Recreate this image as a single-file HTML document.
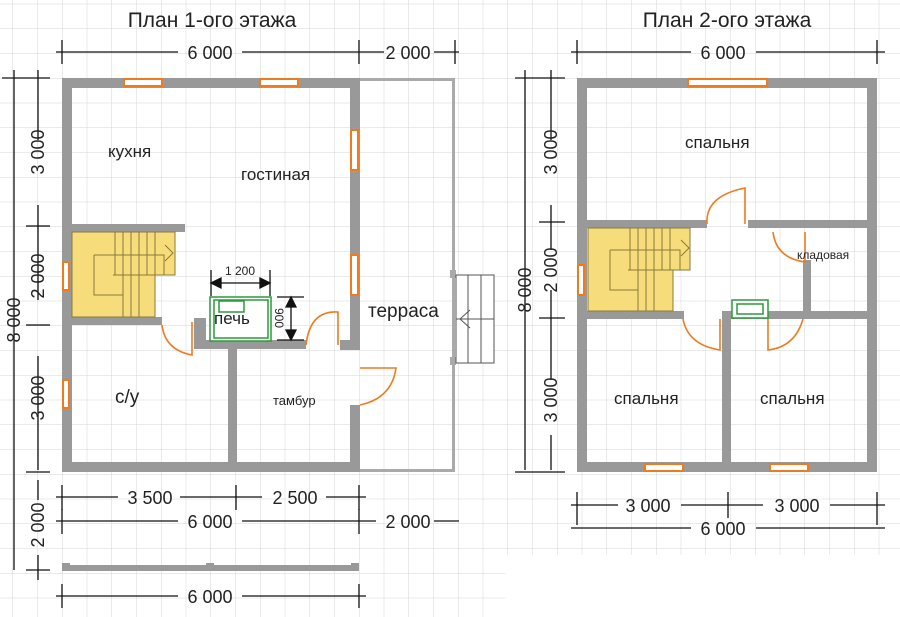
<!DOCTYPE html>
<html><head><meta charset="utf-8"><style>
html,body{margin:0;padding:0;background:#fff}
svg{display:block}
text{font-family:"Liberation Sans","DejaVu Sans",sans-serif;fill:#222}
</style></head><body>
<svg width="900" height="617" viewBox="0 0 900 617" xmlns="http://www.w3.org/2000/svg">
<defs>
<pattern id="g" width="24.75" height="24.75" patternUnits="userSpaceOnUse" x="62" y="78">
<path d="M0 0H24.75M0 0V24.75" stroke="#d6d6d6" stroke-width="1" fill="none"/>
</pattern>
</defs>
<rect x="0" y="0" width="900" height="617" fill="url(#g)"/>
<rect x="505" y="555" width="395" height="62" fill="#fff"/>

<!-- PLAN 1 -->
<text x="212" y="27" font-size="21" text-anchor="middle">План 1-ого этажа</text>
<g stroke="#111" stroke-width="1.3" fill="none">
<path d="M56 52H178M242 52H376M359 40V64M62 40V64M376 52H384M434 52H459M455 40V64"/>
<path d="M14 70V570M2 78H50M38 70V140M38 205V300M38 356V470M26 226H50M26 325H50M26 472H50M38 480V500M38 555V580M26 570H50"/>
<path d="M56 497H118M180 497H262M326 497H366M62 485V510M236 485V510M359 485V510"/>
<path d="M56 521H178M242 521H376M434 521H459M62 509V534M359 509V534"/>
<path d="M56 596H178M242 596H366M62 584V608M359 584V608"/>
</g>
<g font-size="18" text-anchor="middle">
<text x="210" y="59">6 000</text><text x="408" y="59">2 000</text>
<text x="150" y="504">3 500</text><text x="295" y="504">2 500</text>
<text x="210" y="528">6 000</text><text x="408" y="528">2 000</text>
<text x="210" y="603">6 000</text>
<text transform="translate(20,320) rotate(-90)">8 000</text>
<text transform="translate(44,152) rotate(-90)">3 000</text>
<text transform="translate(44,276) rotate(-90)">2 000</text>
<text transform="translate(44,398) rotate(-90)">3 000</text>
<text transform="translate(44,525) rotate(-90)">2 000</text>
</g>
<!-- terrace -->
<g fill="#aaa">
<rect x="359" y="78" width="96" height="3"/><rect x="452" y="78" width="3" height="394"/><rect x="359" y="469" width="96" height="3"/>
<rect x="450" y="270" width="6" height="8"/><rect x="450" y="357" width="6" height="8"/>
</g>
<g stroke="#555" stroke-width="1" fill="#fff"><rect x="456" y="275" width="38" height="88"/>
<path d="M468 275V363M481 275V363M456 319H494" fill="none"/><path d="M470 310L460 319L470 328" fill="none"/></g>
<!-- foundation bar -->
<rect x="62" y="565" width="297" height="6" fill="#999"/><rect x="62" y="563" width="8" height="8" fill="#999"/><rect x="206" y="563" width="8" height="8" fill="#999"/><rect x="351" y="563" width="8" height="8" fill="#999"/>
<!-- walls -->
<g fill="#999">
<rect x="62" y="78" width="298" height="10"/>
<rect x="62" y="462" width="298" height="10"/>
<rect x="62" y="78" width="10" height="394"/>
<rect x="350" y="78" width="10" height="262"/>
<rect x="350" y="405" width="10" height="67"/>
<rect x="340" y="340" width="20" height="10"/>
<rect x="72" y="224" width="113" height="8"/>
<rect x="72" y="317" width="90" height="8"/>
<rect x="194" y="318" width="12" height="30"/>
<rect x="194" y="340" width="112" height="9"/>
<rect x="228" y="340" width="9" height="125"/>
</g>
<!-- stairs -->
<g stroke="#8a7a3a" stroke-width="1" fill="#f6dc7a">
<path d="M72 232H175V275H155V317H72Z"/>
<path d="M115 232V275M123 232V317M131 232V317M139 232V317M147 232V275M155 232V275M94 255H164V275M94 255V295H123M113 275H175" fill="none"/>
<path d="M165 245L173 253L165 261" fill="none"/>
</g>
<!-- windows -->
<g fill="#fff" stroke="#f07a20" stroke-width="2">
<rect x="124" y="79" width="38" height="7"/><rect x="260" y="79" width="38" height="7"/>
<rect x="351" y="130" width="7" height="40"/><rect x="351" y="255" width="7" height="40"/>
<rect x="63" y="262" width="6" height="28"/><rect x="63" y="380" width="6" height="28"/>
</g>
<!-- doors -->
<g stroke="#f07a20" stroke-width="1.6" fill="none">
<path d="M162 325Q165 350 192 355V322"/>
<path d="M306 345Q310 310 338 312V345"/>
<path d="M360 368H396Q392 398 360 405"/>
</g>
<!-- stove -->
<g stroke="#2a9a3a" stroke-width="1.5" fill="#fff">
<rect x="210" y="297" width="61" height="44"/><rect x="214" y="300" width="54" height="38" fill="none"/><rect x="219" y="301" width="25" height="11" fill="none"/>
</g>
<g stroke="#111" stroke-width="1.3" fill="#111">
<path d="M211 270V296M270 270V296M211 283H270" fill="none"/><path d="M211 283l10-5v10zM270 283l-10-5v10z"/>
<path d="M277 297H304M277 340H304M291 297V340" fill="none"/><path d="M291 297l-5 10h10zM291 340l-5-10h10z"/>
</g>
<text x="240" y="275" font-size="12" text-anchor="middle">1 200</text>
<text transform="translate(275,318) rotate(90)" font-size="12" text-anchor="middle">900</text>
<g font-size="17">
<text x="108" y="157">кухня</text><text x="241" y="180">гостиная</text>
<text x="214" y="324">печь</text><text x="368" y="317" font-size="19">терраса</text>
<text x="115" y="403" font-size="19">с/у</text><text x="273" y="405" font-size="13">тамбур</text>
</g>

<!-- PLAN 2 -->
<text x="727" y="27" font-size="21" text-anchor="middle">План 2-ого этажа</text>
<g stroke="#111" stroke-width="1.3" fill="none">
<path d="M571 52H691M756 52H885M577 40V64M877 40V64"/>
<path d="M525 70V470M515 78H565M515 472H565M551 70V140M551 205V250M551 290V380M551 435V470M539 222H565M539 318H565"/>
<path d="M571 505H618M681 505H763M830 505H885M577 492V525M728 492V518M877 492V525"/>
<path d="M571 528H691M756 528H885"/>
</g>
<g font-size="18" text-anchor="middle">
<text x="723" y="59">6 000</text>
<text x="648" y="512">3 000</text><text x="797" y="512">3 000</text>
<text x="723" y="535">6 000</text>
<text transform="translate(531,290) rotate(-90)">8 000</text>
<text transform="translate(557,152) rotate(-90)">3 000</text>
<text transform="translate(557,270) rotate(-90)">2 000</text>
<text transform="translate(557,400) rotate(-90)">3 000</text>
</g>
<g fill="#999">
<rect x="577" y="78" width="300" height="10"/>
<rect x="577" y="462" width="300" height="10"/>
<rect x="577" y="78" width="10" height="394"/>
<rect x="867" y="78" width="10" height="394"/>
<rect x="587" y="220" width="120" height="8"/>
<rect x="748" y="220" width="120" height="8"/>
<rect x="587" y="311" width="97" height="8"/>
<rect x="722" y="311" width="148" height="8"/>
<rect x="722" y="311" width="9" height="155"/>
<rect x="803" y="260" width="8" height="55"/>
</g>
<g stroke="#8a7a3a" stroke-width="1" fill="#f6dc7a">
<path d="M588 228H690V270H673V311H588Z"/>
<path d="M630 228V270M638 228V311M646 228V311M654 228V311M662 228V270M670 228V270M610 250H680V270M610 250V290H638M628 270H690" fill="none"/>
<path d="M681 240L689 248L681 256" fill="none"/>
</g>
<g fill="#fff" stroke="#f07a20" stroke-width="2">
<rect x="688" y="79" width="79" height="7"/>
<rect x="645" y="464" width="38" height="7"/><rect x="770" y="464" width="38" height="7"/>
<rect x="578" y="265" width="6" height="30"/>
</g>
<g stroke="#f07a20" stroke-width="1.6" fill="none">
<path d="M707 224Q705 196 745 188V224"/>
<path d="M773 232Q776 258 805 262V232"/>
<path d="M683 319Q688 345 720 350V319"/>
<path d="M768 319V350Q795 347 803 319"/>
</g>
<g stroke="#2a9a3a" stroke-width="1.5" fill="#fff"><rect x="732" y="300" width="36" height="18"/><rect x="737" y="304" width="26" height="10" fill="none"/></g>
<g font-size="17">
<text x="685" y="148">спальня</text>
<text x="614" y="404">спальня</text><text x="760" y="404">спальня</text>
<text x="797" y="259" font-size="12">кладовая</text>
</g>
</svg>
</body></html>
